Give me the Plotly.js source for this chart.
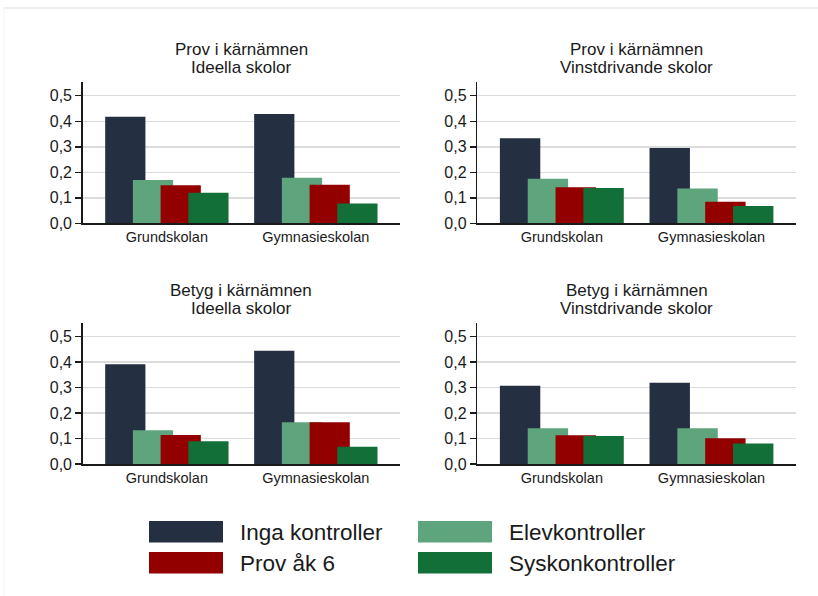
<!DOCTYPE html>
<html>
<head>
<meta charset="utf-8">
<script src="https://cdn.plot.ly/plotly-3.0.1.min.js"></script>
<style>html,body{margin:0;padding:0;background:#fff;}#chart{width:818px;height:596px;}</style>
</head>
<body>
<div id="chart"></div>
<script>
// ---- data ----
const categories = ["Grundskolan", "Gymnasieskolan"];
const seriesNames = ["Inga kontroller", "Elevkontroller", "Prov åk 6", "Syskonkontroller"];
const seriesColors = ["#242f42", "#5ea57e", "#920000", "#116f37"];
const panelTitleLine1 = ["Prov i kärnämnen", "Prov i kärnämnen", "Betyg i kärnämnen", "Betyg i kärnämnen"];
const panelTitleLine2 = ["Ideella skolor", "Vinstdrivande skolor", "Ideella skolor", "Vinstdrivande skolor"];
// values per panel: [Grundskolan, Gymnasieskolan]
const ingaKontroller   = [[0.418, 0.428], [0.333, 0.295], [0.392, 0.445], [0.307, 0.319]];
const elevKontroller   = [[0.170, 0.179], [0.175, 0.136], [0.133, 0.164], [0.140, 0.140]];
const provAk6          = [[0.149, 0.151], [0.141, 0.084], [0.114, 0.164], [0.113, 0.101]];
const syskonKontroller = [[0.120, 0.078], [0.138, 0.068], [0.089, 0.068], [0.110, 0.081]];
const yTicks = [0, 0.1, 0.2, 0.3, 0.4, 0.5];

// ---- layout geometry ----
const W = 818, H = 596;
const px = v => v / W, py = v => 1 - v / H;
const xDomains = [[px(82.7), px(400)], [px(477.3), px(796)]];
const yDomains = [[py(223.3), py(81.7)], [py(464), py(322.7)]];
const allSeries = [ingaKontroller, elevKontroller, provAk6, syskonKontroller];
const offsets = [-0.414, -0.228, -0.042, 0.144];
const barWidth = 0.27;
const font = "Liberation Sans, Arial, sans-serif";
const dark = "#1a1a1a";

const traces = [];
const layout = {
  width: W, height: H,
  margin: {l: 0, r: 0, t: 0, b: 0},
  paper_bgcolor: "#fff", plot_bgcolor: "#fff",
  barmode: "overlay",
  showlegend: false,
  separators: ", ",
  font: {family: font, color: dark},
  annotations: [],
  shapes: [
    {type: "line", xref: "paper", yref: "paper", x0: px(4), x1: px(818), y0: py(8), y1: py(8),
     line: {color: "#e4ebed", width: 1.5}, layer: "below"},
    {type: "line", xref: "paper", yref: "paper", x0: px(4), x1: px(4), y0: py(8), y1: py(596),
     line: {color: "#f1f4f5", width: 1}, layer: "below"}
  ]
};

for (let p = 0; p < 4; p++) {
  const col = p % 2, row = Math.floor(p / 2);
  const ax = p === 0 ? "" : String(p + 1);
  allSeries.forEach((s, i) => {
    traces.push({
      type: "bar", x: categories, y: s[p],
      xaxis: "x" + ax, yaxis: "y" + ax,
      name: seriesNames[i],
      marker: {color: seriesColors[i], line: {width: 0}},
      offset: offsets[i], width: barWidth,
      opacity: 1, hoverinfo: "x+y+name"
    });
  });
  layout["xaxis" + ax] = {
    domain: xDomains[col], anchor: "y" + ax,
    type: "category", range: [-0.565, 1.565],
    showline: true, linecolor: dark, linewidth: 1.5,
    ticks: "", showgrid: false, zeroline: false,
    tickfont: {size: 14.5, family: font, color: dark}
  };
  layout["yaxis" + ax] = {
    domain: yDomains[row], anchor: "x" + ax,
    range: [0, 0.555],
    tickvals: yTicks, tickformat: ".1f",
    showline: true, linecolor: dark, linewidth: 1.5,
    ticks: "outside", ticklen: 6, tickwidth: 1.5, tickcolor: dark,
    showgrid: true, gridcolor: "#dcdcdc", gridwidth: 1.5,
    zeroline: false,
    tickfont: {size: 16, family: font, color: dark}
  };
  const cx = (xDomains[col][0] + xDomains[col][1]) / 2;
  const shift = row === 0 ? 0 : 240.7;
  layout.annotations.push({
    xref: "paper", yref: "paper", x: cx, y: py(49.5 + shift),
    xanchor: "center", yanchor: "middle",
    text: panelTitleLine1[p], showarrow: false,
    font: {size: 17, family: font, color: dark}
  });
  layout.annotations.push({
    xref: "paper", yref: "paper", x: cx, y: py(67.5 + shift),
    xanchor: "center", yanchor: "middle",
    text: panelTitleLine2[p], showarrow: false,
    font: {size: 17, family: font, color: dark}
  });
}

// legend drawn as swatches + labels (2x2 grid)
const legX = [149, 418], legSwW = 74, legTextX = [238, 507];
const legY = [521, 552];
const legOrder = [0, 1, 2, 3];
legOrder.forEach((si, k) => {
  const c = k % 2, r = Math.floor(k / 2);
  layout.shapes.push({
    type: "rect", xref: "paper", yref: "paper",
    x0: px(legX[c]), x1: px(legX[c] + legSwW),
    y0: py(legY[r] + 21.5), y1: py(legY[r]),
    fillcolor: seriesColors[si], line: {width: 0}
  });
  layout.annotations.push({
    xref: "paper", yref: "paper",
    x: px(legTextX[c]), y: py(legY[r] + 11),
    xanchor: "left", yanchor: "middle",
    text: seriesNames[si], showarrow: false,
    font: {size: 22.5, family: font, color: dark}
  });
});

Plotly.newPlot("chart", traces, layout, {displayModeBar: false, staticPlot: true});
</script>
</body>
</html>
